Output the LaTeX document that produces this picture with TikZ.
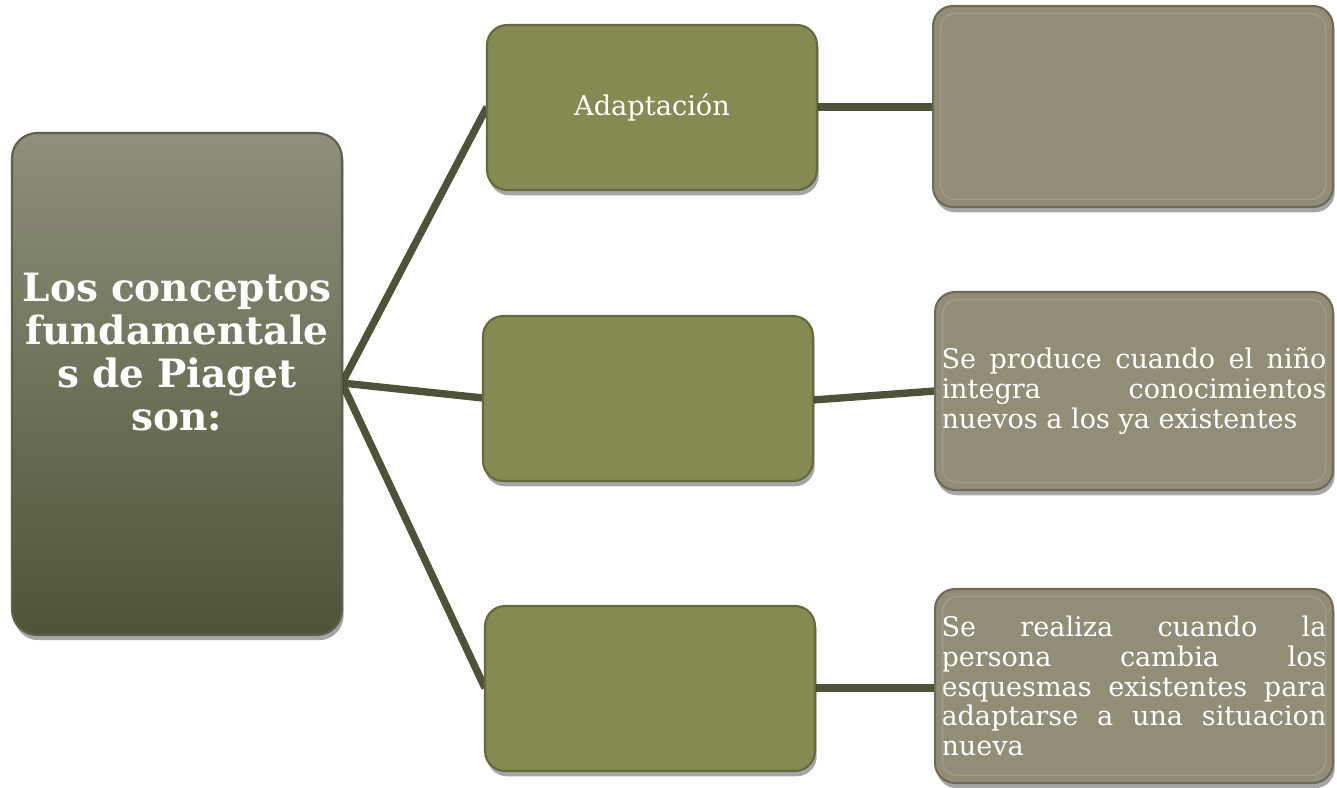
\documentclass[tikz,border=0pt]{standalone}
\usepackage{fontspec}
\setmainfont{DejaVu Serif}
\usetikzlibrary{shadows}
\definecolor{linec}{HTML}{4E5238}
\definecolor{midfill}{HTML}{848A52}
\definecolor{midedge}{HTML}{646A3C}
\definecolor{rightfill}{HTML}{928D76}
\definecolor{rightedge}{HTML}{6E6A56}
\definecolor{rightinner}{HTML}{A29D86}
\definecolor{hubtop}{HTML}{8F8F7C}
\definecolor{hubbot}{HTML}{4F5437}
\definecolor{hubedge}{HTML}{5E604C}
\begin{document}
\begin{tikzpicture}[x=0.02cm,y=-0.02cm,
  boxbase/.style={rectangle, inner sep=0pt, outer sep=0pt, line width=1.2pt,
    drop shadow={shadow xshift=1pt, shadow yshift=-3pt, opacity=0.35, fill=black}},
  hubbox/.style={boxbase, rounded corners=0.5cm, draw=hubedge, top color=hubtop, bottom color=hubbot,
    minimum width=6.6cm, minimum height=10.04cm},
  hubtextstyle/.style={inner sep=0pt, text width=6.5cm, align=center,
    text=white, font=\bfseries\fontsize{22.2}{24.5}\selectfont},
  midbox/.style={boxbase, rounded corners=0.4cm, draw=midedge, fill=midfill,
    minimum width=6.6cm, minimum height=3.3cm, text=white, font=\fontsize{15.5}{18}\selectfont},
  rightbox/.style={boxbase, rounded corners=0.4cm, draw=rightedge, fill=rightfill,
    minimum width=7.96cm, text width=7.7cm, align=justify,
    text=white, font=\fontsize{15.4}{17}\selectfont},
  conn/.style={draw=linec, line width=4.2pt}
]
\useasboundingbox (0,0) rectangle (1337,787);

% connectors (behind boxes)
\coordinate (hubR) at (342,383);
\coordinate (m1L) at (487,107);
\coordinate (m2L) at (483,398);
\coordinate (m3L) at (485,688);
\coordinate (m1R) at (817,107);
\coordinate (m2R) at (813,400);
\coordinate (m3R) at (815,688);
\coordinate (r1L) at (933,107);
\coordinate (r2L) at (935,391);
\coordinate (r3L) at (935,688);
\draw[conn] (m1L) -- (hubR) -- (m2L);
\draw[conn] (hubR) -- (m3L);
\draw[conn] (m1R) -- (r1L);
\draw[conn] (m2R) -- (r2L);
\draw[conn] (m3R) -- (r3L);

% hub
\node[hubbox] (hub) at (177,384) {};
\node[hubtextstyle] (hubtext) at (177,352) {Los conceptos\\fundamentale\\s de Piaget\\son:};

% middle boxes
\node[midbox] (m1) at (652,107.5) {Adaptación};
\node[midbox] (m2) at (648,398.5) {};
\node[midbox] (m3) at (650,688.5) {};

% right boxes
\node[rightbox, minimum height=4.02cm, minimum width=8cm] (r1) at (1133,106.5) {};
\node[rightbox, minimum height=3.96cm] (r2) at (1134,391)
  {Se produce cuando el niño\linebreak integra conocimientos\linebreak nuevos a los ya existentes};
\node[rightbox, minimum height=3.88cm] (r3) at (1134,686)
  {Se realiza cuando la\linebreak persona cambia los\linebreak esquesmas existentes para\linebreak adaptarse a una situacion\linebreak nueva};

% inner bevel lines on right boxes
\foreach \b in {r1,r2,r3}{
  \draw[rightinner, line width=0.8pt, rounded corners=0.3cm]
    ([xshift=0.15cm,yshift=-0.15cm]\b.north west) rectangle ([xshift=-0.15cm,yshift=0.15cm]\b.south east);
}
\end{tikzpicture}
\end{document}
